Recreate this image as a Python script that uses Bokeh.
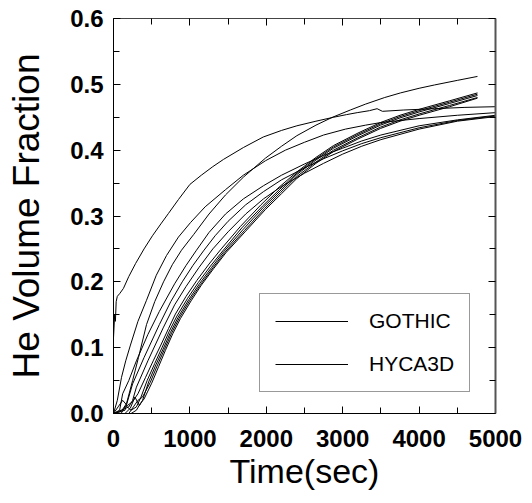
from bokeh.plotting import figure
from bokeh.models import (Range1d, LinearAxis, NumeralTickFormatter, Legend,
                          LegendItem, FixedTicker)
from bokeh.embed import file_html
from bokeh.resources import INLINE

# ---------------- data ----------------
x_label = "Time(sec)"
y_label = "He Volume Fraction"
legend_labels = ["GOTHIC", "HYCA3D"]

x_major = [0, 1000, 2000, 3000, 4000, 5000]
x_minor = [500, 1500, 2500, 3500, 4500]
y_major = [0.0, 0.1, 0.2, 0.3, 0.4, 0.5, 0.6]
y_minor = [0.05, 0.15, 0.25, 0.35, 0.45, 0.55]

# GOTHIC-like curves (run to 5000 s)
a_time = [0, 15, 25, 35, 50, 80, 130, 200, 290, 400, 510, 620, 720, 850, 1000,
          1150, 1300, 1440, 1700, 1960, 2200, 2400, 2650, 2880, 3050, 3190, 3350,
          3450, 3520, 3800, 4200, 4600, 5000]
a_frac = [0.115, 0.15, 0.14, 0.17, 0.178, 0.182, 0.19, 0.208, 0.228, 0.25, 0.27,
          0.288, 0.304, 0.325, 0.348, 0.362, 0.375, 0.386, 0.404, 0.42, 0.43,
          0.437, 0.444, 0.45, 0.454, 0.457, 0.46, 0.463, 0.459, 0.461, 0.463,
          0.465, 0.466]

c_time = [0, 50, 105, 160, 222, 320, 432, 560, 694, 850, 1008, 1200, 1466, 1700,
          1990, 2250, 2500, 2750, 3037, 3300, 3500, 4000, 4500, 5000]
c_frac = [0.0, 0.02, 0.055, 0.08, 0.104, 0.14, 0.172, 0.21, 0.24, 0.268, 0.29,
          0.314, 0.34, 0.362, 0.384, 0.4, 0.412, 0.423, 0.432, 0.438, 0.442,
          0.448, 0.453, 0.457]

y_time = [0, 80, 120, 200, 300, 450, 600, 800, 950, 1086, 1250, 1466, 1700, 1963,
          2200, 2500, 2750, 3000, 3250, 3500, 4000, 4500, 5000]
y_frac = [0.0, 0.005, 0.03, 0.05, 0.08, 0.12, 0.155, 0.197, 0.225, 0.248, 0.275,
          0.303, 0.326, 0.346, 0.362, 0.379, 0.392, 0.403, 0.414, 0.423, 0.437,
          0.446, 0.453]

z_time = [0, 150, 200, 250, 400, 600, 750, 900, 1040, 1178, 1330, 1500, 1730,
          1963, 2200, 2500, 2750, 3000, 3250, 3500, 4000, 4500, 5000]
z_frac = [0.0, 0.005, 0.025, 0.045, 0.085, 0.135, 0.17, 0.2, 0.225, 0.247, 0.27,
          0.292, 0.317, 0.337, 0.355, 0.373, 0.387, 0.399, 0.41, 0.419, 0.434,
          0.445, 0.452]

w_time = [0, 200, 250, 300, 450, 650, 800, 950, 1120, 1300, 1500, 1730, 1963,
          2200, 2500, 2750, 3000, 3250, 3500, 4000, 4500, 5000]
w_frac = [0.0, 0.01, 0.02, 0.04, 0.08, 0.13, 0.165, 0.193, 0.222, 0.25, 0.276,
          0.303, 0.326, 0.345, 0.365, 0.38, 0.394, 0.406, 0.416, 0.432, 0.444,
          0.451]

# HYCA3D-like curves (run to ~4760 s)
b_time = [0, 100, 170, 250, 327, 432, 540, 655, 770, 890, 1050, 1250, 1466, 1700,
          1990, 2200, 2400, 2650, 2866, 3100, 3300, 3550, 3757, 4000, 4200, 4500,
          4764]
b_frac = [0.0, 0.003, 0.015, 0.05, 0.085, 0.135, 0.17, 0.2, 0.226, 0.248, 0.272,
          0.303, 0.332, 0.359, 0.388, 0.406, 0.422, 0.438, 0.45, 0.461, 0.47,
          0.48, 0.487, 0.494, 0.499, 0.506, 0.512]

b1_time = [0, 60, 120, 180, 250, 320, 420, 520, 620, 720, 810, 950, 1090, 1250,
           1410, 1660, 1930, 2150, 2400, 2650, 2880, 3200, 3495, 3750, 4000, 4400,
           4764]
b1_frac = [0.0, 0.01, 0.02, 0.012, 0.018, 0.03, 0.055, 0.08, 0.104, 0.129, 0.151,
           0.178, 0.202, 0.227, 0.25, 0.284, 0.317, 0.342, 0.367, 0.389, 0.407,
           0.426, 0.442, 0.453, 0.462, 0.475, 0.487]

b2_time = [0, 100, 160, 230, 300, 360, 440, 540, 635, 730, 830, 970, 1110, 1270,
           1430, 1680, 1950, 2170, 2400, 2650, 2880, 3200, 3495, 3750, 4000, 4400,
           4764]
b2_frac = [0.0, 0.0, 0.012, 0.005, 0.01, 0.025, 0.05, 0.076, 0.1, 0.125, 0.148,
           0.175, 0.199, 0.224, 0.247, 0.282, 0.315, 0.34, 0.365, 0.387, 0.405,
           0.424, 0.44, 0.451, 0.46, 0.473, 0.485]

b3_time = [0, 150, 220, 280, 340, 380, 460, 555, 650, 745, 845, 985, 1125, 1285,
           1445, 1700, 1960, 2180, 2400, 2650, 2880, 3200, 3495, 3750, 4000, 4400,
           4764]
b3_frac = [0.0, 0.0, 0.008, 0.025, 0.012, 0.02, 0.048, 0.074, 0.098, 0.123, 0.146,
           0.173, 0.197, 0.222, 0.246, 0.28, 0.313, 0.338, 0.363, 0.385, 0.403,
           0.422, 0.438, 0.449, 0.458, 0.471, 0.483]

b4_time = [0, 200, 260, 320, 380, 480, 570, 665, 760, 860, 1000, 1140, 1300, 1460,
           1715, 1975, 2190, 2400, 2650, 2880, 3200, 3495, 3750, 4000, 4400, 4764]
b4_frac = [0.0, 0.0, 0.01, 0.02, 0.025, 0.047, 0.072, 0.097, 0.122, 0.145, 0.172,
           0.196, 0.221, 0.245, 0.278, 0.311, 0.336, 0.36, 0.382, 0.4, 0.419,
           0.435, 0.446, 0.455, 0.468, 0.48]

b5_time = [0, 230, 300, 350, 400, 500, 590, 680, 775, 875, 1015, 1150, 1310, 1470,
           1730, 1990, 2200, 2400, 2650, 2880, 3200, 3495, 3750, 4000, 4400, 4764]
b5_frac = [0.0, 0.0, 0.005, 0.015, 0.022, 0.046, 0.071, 0.096, 0.121, 0.144, 0.171,
           0.195, 0.22, 0.244, 0.277, 0.31, 0.334, 0.357, 0.38, 0.398, 0.417,
           0.433, 0.444, 0.453, 0.466, 0.479]

gothic_series = [(a_time, a_frac), (c_time, c_frac), (y_time, y_frac),
                 (z_time, z_frac), (w_time, w_frac)]
hyca_series = [(b_time, b_frac), (b1_time, b1_frac), (b2_time, b2_frac),
               (b3_time, b3_frac), (b4_time, b4_frac), (b5_time, b5_frac)]

# ---------------- figure ----------------
FONT = "Liberation Sans"

p = figure(frame_width=382, frame_height=395,
           x_range=Range1d(0, 5000), y_range=Range1d(0, 0.6),
           output_backend="svg", toolbar_location=None,
           min_border_left=113, min_border_right=35,
           min_border_top=18, min_border_bottom=85)
p.grid.visible = False
p.outline_line_color = None
p.background_fill_color = "white"
p.border_fill_color = "white"

g_renderers = []
for t, f in gothic_series:
    g_renderers.append(p.line(t, f, line_color="black", line_width=1))
h_renderers = []
for t, f in hyca_series:
    h_renderers.append(p.line(t, f, line_color="black", line_width=1))


def style_axis(ax):
    ax.major_tick_in = 7
    ax.major_tick_out = 0
    ax.minor_tick_in = 6
    ax.minor_tick_out = 0
    ax.axis_line_color = "black"
    ax.major_tick_line_color = "black"
    ax.minor_tick_line_color = "black"
    ax.major_label_text_font = FONT
    ax.major_label_text_font_style = "bold"
    ax.major_label_text_font_size = "24px"
    ax.major_label_text_color = "black"
    ax.axis_label_text_font = FONT
    ax.axis_label_text_font_style = "normal"
    ax.axis_label_text_color = "black"


def hide_labels(ax):
    ax.major_label_text_font_size = "1px"
    ax.major_label_text_color = None
    ax.major_label_standoff = 0


xa = p.xaxis[0]
xa.ticker = FixedTicker(ticks=x_major, minor_ticks=x_minor)
xa.formatter = NumeralTickFormatter(format="0")
style_axis(xa)
xa.axis_label = x_label
xa.axis_label_text_font_size = "34px"
xa.major_label_standoff = 16
xa.axis_label_standoff = 2

ya = p.yaxis[0]
ya.ticker = FixedTicker(ticks=y_major, minor_ticks=y_minor)
ya.formatter = NumeralTickFormatter(format="0.0")
style_axis(ya)
ya.axis_label = y_label
ya.axis_label_text_font_size = "37px"
ya.major_label_standoff = 10
ya.axis_label_standoff = 20

top = LinearAxis(ticker=FixedTicker(ticks=x_major, minor_ticks=x_minor))
style_axis(top)
hide_labels(top)
top.axis_line_color = "#444444"
p.add_layout(top, "above")

right = LinearAxis(ticker=FixedTicker(ticks=y_major, minor_ticks=y_minor))
style_axis(right)
hide_labels(right)
right.axis_line_color = "#555555"
right.axis_line_width = 2
p.add_layout(right, "right")

legend = Legend(items=[LegendItem(label=legend_labels[0], renderers=[g_renderers[0]]),
                       LegendItem(label=legend_labels[1], renderers=[h_renderers[0]])],
                location=(146, 21))
legend.padding = 15
legend.spacing = 19
legend.margin = 0
legend.glyph_width = 73
legend.glyph_height = 20
legend.label_height = 20
legend.label_standoff = 21
legend.label_text_font = FONT
legend.label_text_font_size = "21px"
legend.label_text_color = "black"
legend.border_line_color = "#333333"
legend.border_line_width = 1
legend.background_fill_color = "white"
legend.background_fill_alpha = 1.0
p.add_layout(legend)

open("out.html", "w").write(file_html(p, INLINE))
